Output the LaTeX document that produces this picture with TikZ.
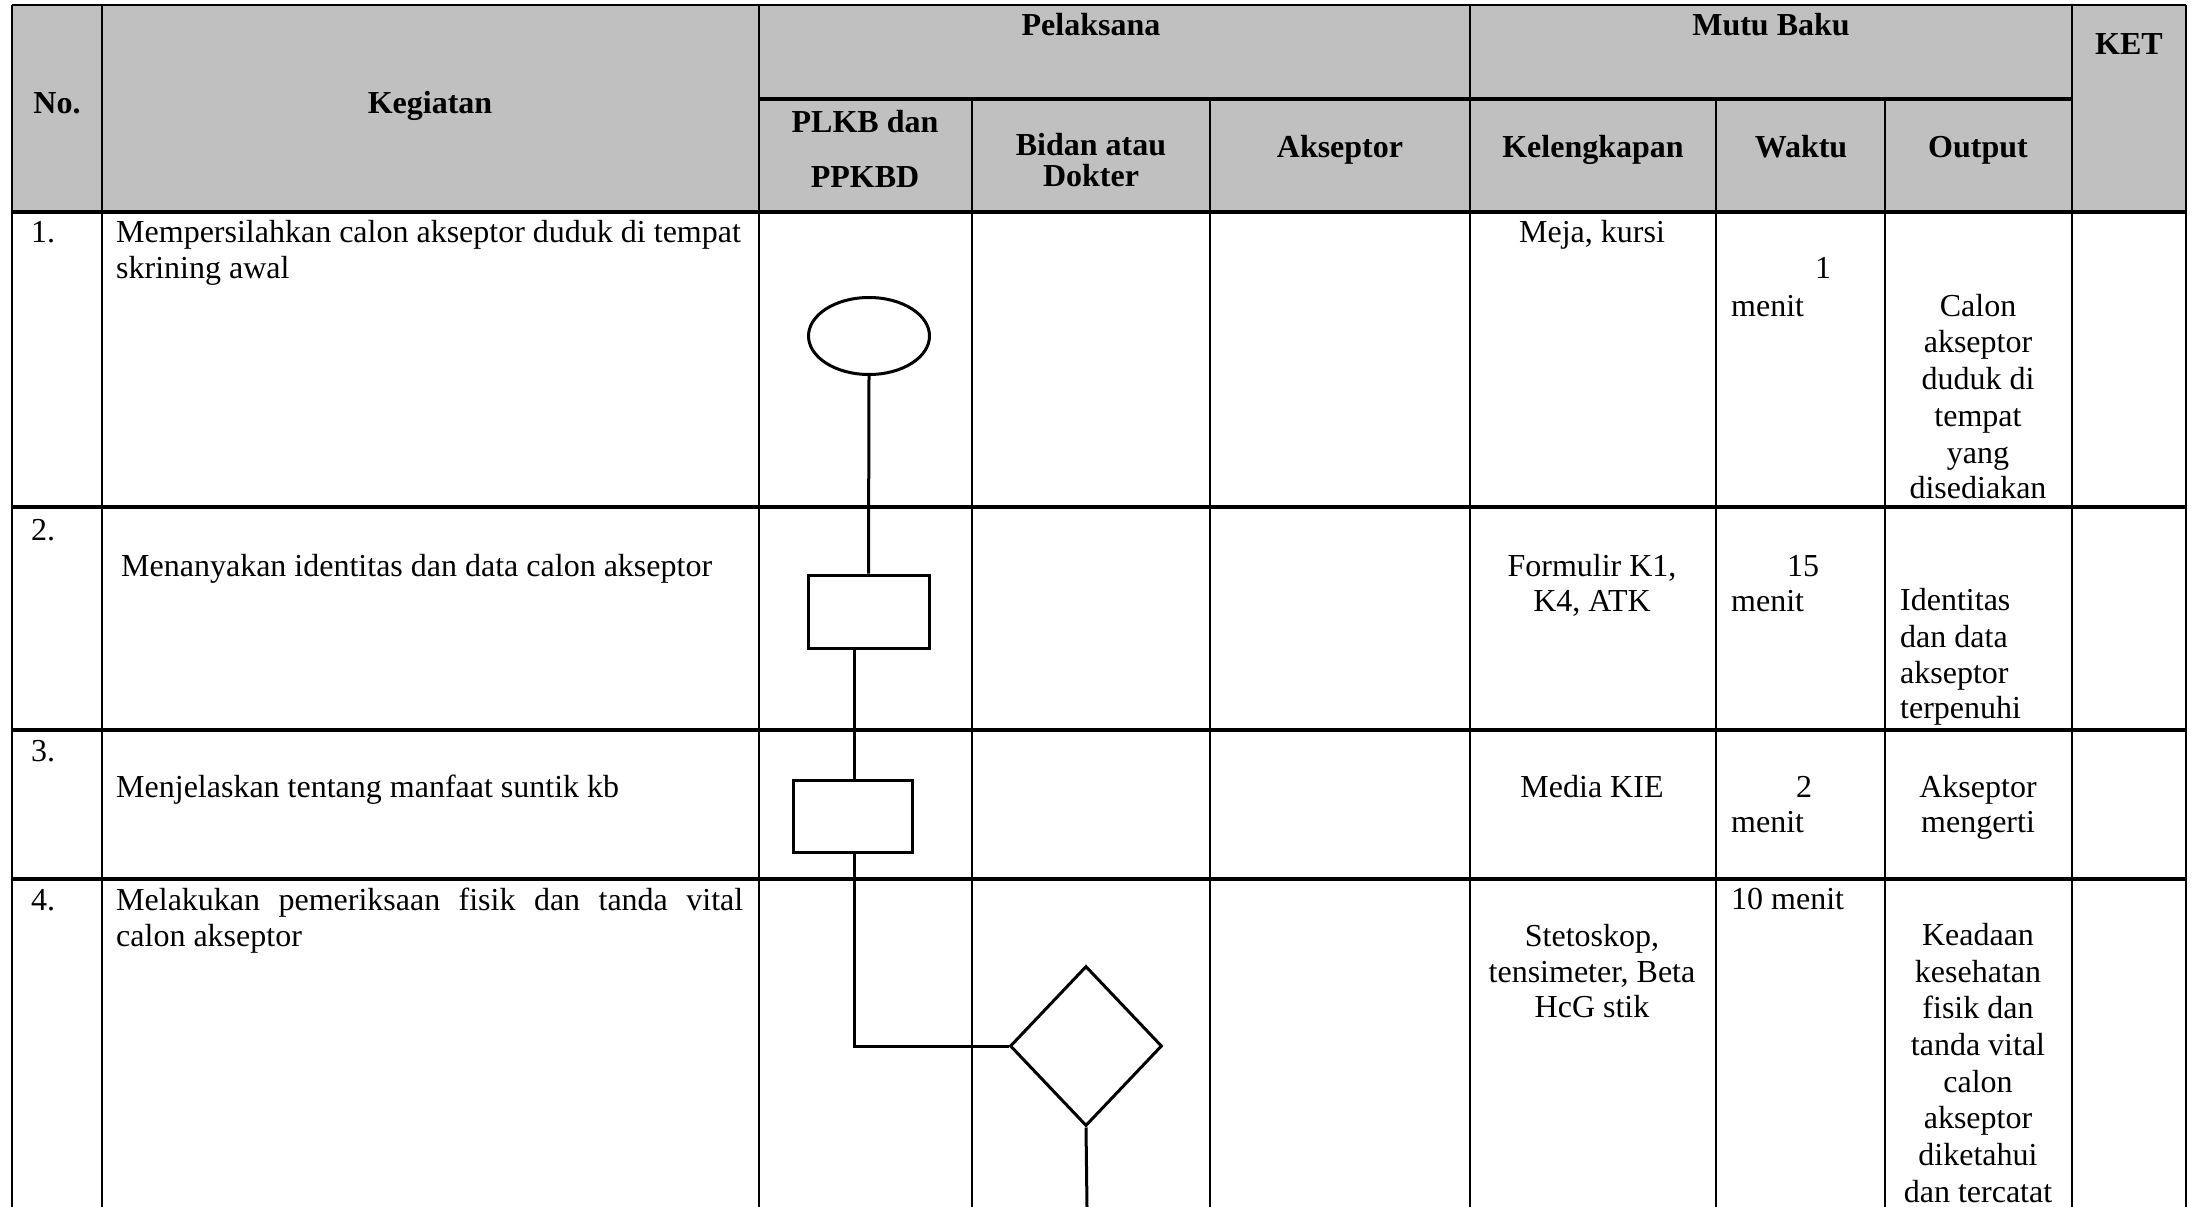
\documentclass[tikz,border=0pt]{standalone}
\usepackage{fontspec}
\setmainfont{Liberation Serif}
\usetikzlibrary{shapes.geometric}
\definecolor{hdrgray}{HTML}{C0C0C0}
\begin{document}
\begin{tikzpicture}[x=1pt,y=-1pt,
  txt/.style={inner sep=0pt, font=\fontsize{32}{37}\selectfont},
  txtl/.style={txt, anchor=base west},
  txtc/.style={txt, anchor=base},
  hdr/.style={inner sep=0pt, font=\fontsize{32}{37}\selectfont\bfseries, anchor=base},
  gridline/.style={line width=2pt},
  rowline/.style={line width=3.5pt},
  flow/.style={draw, line width=3pt, inner sep=0pt},
  conn/.style={line width=3pt},
]
\useasboundingbox (0,0) rectangle (2193,1207);
% header background
\fill[hdrgray] (12,5) rectangle (2186,212);
% vertical lines
\foreach \x in {12,102,759,1470,2072,2186} \draw[gridline] (\x,5) -- (\x,1207);
\foreach \x in {972,1210,1716,1885} \draw[gridline] (\x,99) -- (\x,1207);
% horizontal lines
\draw[gridline] (12,5) -- (2186,5);
\draw[rowline] (759,99) -- (2072,99);
\foreach \y in {212,507,730,879} \draw[rowline] (12,\y) -- (2186,\y);

% header texts
\node[hdr] (hno) at (57,113) {No.};
\node[hdr] (hkeg) at (430,113) {Kegiatan};
\node[hdr] (hpel) at (1091,36) {Pelaksana};
\node[hdr] (hmutu) at (1771,36) {Mutu Baku};
\node[hdr] (hket) at (2129,55) {KET};
\node[hdr] (hplkb1) at (865,132) {PLKB dan};
\node[hdr] (hplkb2) at (865,187) {PPKBD};
\node[hdr] (hbid1) at (1091,155) {Bidan atau};
\node[hdr] (hbid2) at (1091,186) {Dokter};
\node[hdr] (haks) at (1340,157) {Akseptor};
\node[hdr] (hkel) at (1593,157) {Kelengkapan};
\node[hdr] (hwak) at (1801,157) {Waktu};
\node[hdr] (hout) at (1978,157) {Output};

% row 1
\node[txtl] (n1) at (31,242) {1.};
\node[txtl] (k1a) at (116,242) {Mempersilahkan calon akseptor duduk di tempat};
\node[txtl] (k1b) at (116,278) {skrining awal};
\node[txtc] (kl1) at (1592,242) {Meja, kursi};
\node[txtc] (w1a) at (1823,278) {1};
\node[txtl] (w1b) at (1731,316) {menit};
\node[txtc] (o1a) at (1978,316) {Calon};
\node[txtc] (o1b) at (1978,352) {akseptor};
\node[txtc] (o1c) at (1978,389) {duduk di};
\node[txtc] (o1d) at (1978,426) {tempat};
\node[txtc] (o1e) at (1978,463) {yang};
\node[txtc] (o1f) at (1978,498) {disediakan};

% row 2
\node[txtl] (n2) at (31,540) {2.};
\node[txtl] (k2) at (121,576) {Menanyakan identitas dan data calon akseptor};
\node[txtc] (kl2a) at (1592,576) {Formulir K1,};
\node[txtc] (kl2b) at (1592,611) {K4, ATK};
\node[txtc] (w2a) at (1803,576) {15};
\node[txtl] (w2b) at (1731,611) {menit};
\node[txtl] (o2a) at (1900,610) {Identitas};
\node[txtl] (o2b) at (1900,647) {dan data};
\node[txtl] (o2c) at (1900,683) {akseptor};
\node[txtl] (o2d) at (1900,718) {terpenuhi};

% row 3
\node[txtl] (n3) at (31,761) {3.};
\node[txtl] (k3) at (116,797) {Menjelaskan tentang manfaat suntik kb};
\node[txtc] (kl3) at (1592,797) {Media KIE};
\node[txtc] (w3a) at (1804,797) {2};
\node[txtl] (w3b) at (1731,832) {menit};
\node[txtc] (o3a) at (1978,797) {Akseptor};
\node[txtc] (o3b) at (1978,832) {mengerti};

% row 4
\node[txtl] (n4) at (31,910) {4.};
\node[txtl] (k4a) at (116,910) {\makebox[627pt][s]{Melakukan pemeriksaan fisik dan tanda vital}};
\node[txtl] (k4b) at (116,946) {calon akseptor};
\node[txtl] (w4) at (1731,909) {10 menit};
\node[txtc] (kl4a) at (1592,946) {Stetoskop,};
\node[txtc] (kl4b) at (1592,982) {tensimeter, Beta};
\node[txtc] (kl4c) at (1592,1017) {HcG stik};
\node[txtc] (o4a) at (1978,945) {Keadaan};
\node[txtc] (o4b) at (1978,982) {kesehatan};
\node[txtc] (o4c) at (1978,1018) {fisik dan};
\node[txtc] (o4d) at (1978,1055) {tanda vital};
\node[txtc] (o4e) at (1978,1092) {calon};
\node[txtc] (o4f) at (1978,1128) {akseptor};
\node[txtc] (o4g) at (1978,1165) {diketahui};
\node[txtc] (o4h) at (1978,1202) {dan tercatat};

% flow shapes
\node[flow, ellipse, minimum width=121pt, minimum height=77pt] (e1) at (869,336) {};
\node[flow, rectangle, minimum width=121pt, minimum height=73pt] (r1) at (868.5,611.5) {};
\node[flow, rectangle, minimum width=119pt, minimum height=72pt] (r2) at (852.5,816) {};
\node[flow, diamond, minimum width=152pt, minimum height=160pt] (d1) at (1086,1046) {};
\coordinate (lx) at (854,0);
\coordinate (dend) at (1087,1207);

% connectors
\draw[conn] (e1.south) -- (r1.north);
\draw[conn] (r1.south -| lx) -- (r2.north -| lx);
\draw[conn] (r2.south -| lx) |- (d1.west);
\draw[conn] (d1.south) -- (dend);
\end{tikzpicture}
\end{document}
